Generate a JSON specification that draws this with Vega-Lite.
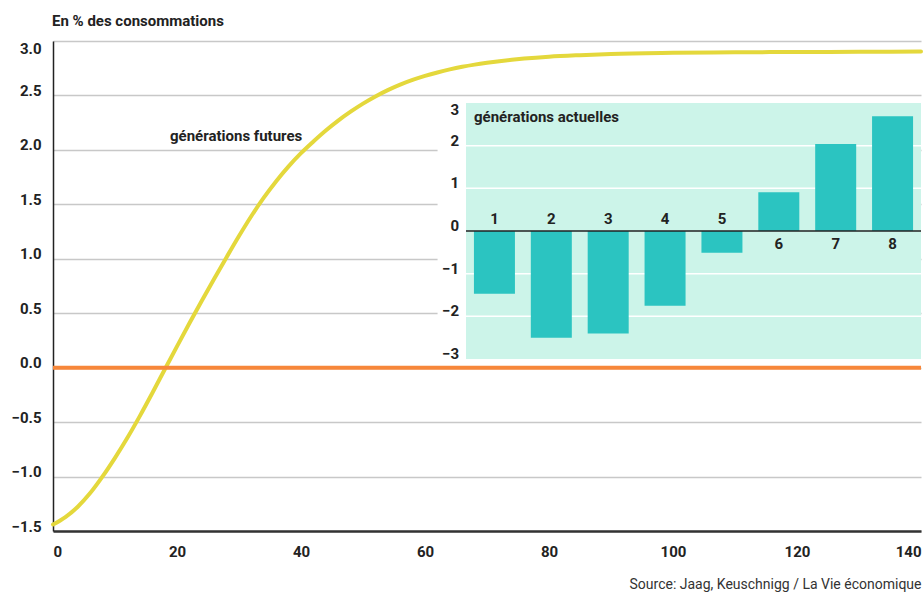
{
  "$schema": "https://vega.github.io/schema/vega-lite/v6.json",
  "width": 868,
  "height": 490,
  "autosize": "none",
  "padding": {"left": 53, "top": 41, "right": 3, "bottom": 64},
  "background": "white",
  "config": {
    "view": {"stroke": null},
    "font": "Roboto, sans-serif"
  },
  "title": {
    "text": "En % des consommations",
    "anchor": "start",
    "frame": "group",
    "fontSize": 15,
    "fontWeight": "bold",
    "color": "#222222",
    "baseline": "alphabetic",
    "offset": 0,
    "dx": -1
  },
  "datasets": {
    "curve": [
      {"x": 0, "y": -1.44}, {"x": 2, "y": -1.372}, {"x": 4, "y": -1.277}, {"x": 6, "y": -1.152},
      {"x": 8, "y": -0.999}, {"x": 10, "y": -0.828}, {"x": 12, "y": -0.644}, {"x": 14, "y": -0.445},
      {"x": 16, "y": -0.235}, {"x": 18, "y": -0.019}, {"x": 20, "y": 0.196}, {"x": 22, "y": 0.408},
      {"x": 24, "y": 0.615}, {"x": 26, "y": 0.817}, {"x": 28, "y": 1.015}, {"x": 30, "y": 1.209},
      {"x": 32, "y": 1.393}, {"x": 34, "y": 1.561}, {"x": 36, "y": 1.713}, {"x": 38, "y": 1.849},
      {"x": 40, "y": 1.97}, {"x": 42, "y": 2.077}, {"x": 44, "y": 2.178}, {"x": 46, "y": 2.269},
      {"x": 48, "y": 2.351}, {"x": 50, "y": 2.425}, {"x": 52, "y": 2.491}, {"x": 54, "y": 2.549},
      {"x": 56, "y": 2.599}, {"x": 58, "y": 2.642}, {"x": 60, "y": 2.679}, {"x": 62, "y": 2.711},
      {"x": 64, "y": 2.739}, {"x": 66, "y": 2.763}, {"x": 68, "y": 2.783}, {"x": 70, "y": 2.8},
      {"x": 72, "y": 2.815}, {"x": 74, "y": 2.828}, {"x": 76, "y": 2.839}, {"x": 80, "y": 2.856},
      {"x": 85, "y": 2.87}, {"x": 90, "y": 2.881}, {"x": 100, "y": 2.891}, {"x": 110, "y": 2.896},
      {"x": 120, "y": 2.899}, {"x": 130, "y": 2.901}, {"x": 140, "y": 2.903}
    ],
    "bars": [
      {"g": 1, "v": -1.47}, {"g": 2, "v": -2.5}, {"g": 3, "v": -2.4}, {"g": 4, "v": -1.75},
      {"g": 5, "v": -0.51}, {"g": 6, "v": 0.91}, {"g": 7, "v": 2.04}, {"g": 8, "v": 2.69}
    ],
    "grid": [{"v": -2}, {"v": -1}, {"v": 1}, {"v": 2}],
    "ticks": [{"v": -3}, {"v": -2}, {"v": -1}, {"v": 0}, {"v": 1}, {"v": 2}, {"v": 3}],
    "one": [{}]
  },
  "layer": [
    {
      "layer": [
        {
          "data": {"name": "curve"},
          "mark": {"type": "line", "color": "#E4D83C", "strokeWidth": 4, "interpolate": "monotone", "strokeCap": "round"},
          "encoding": {
            "x": {
              "field": "x", "type": "quantitative",
              "scale": {"domain": [0, 140], "nice": false, "zero": false},
              "axis": {
                "values": [0, 20, 40, 60, 80, 100, 120, 140],
                "grid": false, "ticks": false,
                "domain": true, "domainColor": "#333333", "domainWidth": 2.5,
                "labelFlush": true, "labelPadding": 13,
                "labelFontSize": 15, "labelFontWeight": "bold", "labelColor": "#222222",
                "title": "Source: Jaag, Keuschnigg / La Vie économique",
                "titleAnchor": "end", "titleAlign": "right", "titleFontWeight": "normal",
                "titleFontSize": 14, "titleColor": "#333333", "titlePadding": 18
              }
            },
            "y": {
              "field": "y", "type": "quantitative",
              "scale": {"domain": [-1.5, 3], "nice": false, "zero": false},
              "axis": {
                "values": [-1.5, -1, -0.5, 0, 0.5, 1, 1.5, 2, 2.5, 3],
                "format": ".1f",
                "grid": true, "gridColor": "#C8C8C8", "gridWidth": 1.5,
                "ticks": false,
                "domain": true, "domainColor": "#222222", "domainWidth": 1.5,
                "labelPadding": 12,
                "labelFontSize": 15, "labelFontWeight": "bold", "labelColor": "#222222",
                "labelBaseline": {"condition": {"test": "datum.value >= 3", "value": "top"}, "value": "alphabetic"},
                "title": null
              }
            }
          }
        },
        {
          "data": {"name": "one"},
          "mark": {"type": "rule", "color": "#F7873A", "strokeWidth": 4},
          "encoding": {"y": {"datum": 0}}
        },
        {
          "data": {"name": "one"},
          "mark": {"type": "text", "text": "générations futures", "align": "right", "baseline": "alphabetic", "fontSize": 15, "fontWeight": "bold", "color": "#222222"},
          "encoding": {"x": {"datum": 40.2}, "y": {"datum": 2.08}}
        }
      ]
    },
    {
      "layer": [
        {
          "data": {"name": "one"},
          "mark": {"type": "rect", "color": "white"},
          "encoding": {
            "x": {"datum": 0, "type": "quantitative", "scale": {"domain": [0.5, 8.5], "range": [413, 868], "padding": 0, "nice": false, "zero": false}, "axis": null},
            "x2": {"datum": 8.5},
            "y": {"datum": -3.08, "type": "quantitative", "scale": {"domain": [-3, 3], "range": [318, 62], "padding": 0, "nice": false, "zero": false}, "axis": null},
            "y2": {"datum": 3.07}
          }
        },
        {
          "data": {"name": "one"},
          "mark": {"type": "rect", "color": "#CCF4E9"},
          "encoding": {
            "x": {"datum": 0.5, "type": "quantitative", "axis": null},
            "x2": {"datum": 8.5},
            "y": {"datum": -3, "type": "quantitative", "axis": null},
            "y2": {"datum": 3}
          }
        },
        {
          "data": {"name": "grid"},
          "mark": {"type": "rule", "color": "white", "strokeWidth": 1.5},
          "encoding": {
            "x": {"datum": 0.5, "type": "quantitative", "axis": null},
            "x2": {"datum": 8.5},
            "y": {"field": "v", "type": "quantitative", "axis": null}
          }
        },
        {
          "data": {"name": "bars"},
          "mark": {"type": "bar", "color": "#2BC4C1", "width": 41},
          "encoding": {
            "x": {"field": "g", "type": "quantitative", "axis": null},
            "y": {"field": "v", "type": "quantitative", "axis": null},
            "y2": {"datum": 0}
          }
        },
        {
          "data": {"name": "one"},
          "mark": {"type": "rule", "color": "#222222", "strokeWidth": 1.5},
          "encoding": {
            "x": {"datum": 0.5, "type": "quantitative", "axis": null},
            "x2": {"datum": 8.5},
            "y": {"datum": 0, "type": "quantitative", "axis": null}
          }
        },
        {
          "data": {"name": "ticks"},
          "transform": [{"filter": "datum.v < 3"}],
          "mark": {"type": "text", "dx": -7, "baseline": "alphabetic", "align": "right", "fontSize": 15, "fontWeight": "bold", "color": "#222222"},
          "encoding": {
            "x": {"datum": 0.5, "type": "quantitative", "axis": null},
            "y": {"field": "v", "type": "quantitative", "axis": null},
            "text": {"field": "v", "type": "quantitative", "format": "d"}
          }
        },
        {
          "data": {"name": "ticks"},
          "transform": [{"filter": "datum.v >= 3"}],
          "mark": {"type": "text", "dx": -7, "baseline": "top", "align": "right", "fontSize": 15, "fontWeight": "bold", "color": "#222222"},
          "encoding": {
            "x": {"datum": 0.5, "type": "quantitative", "axis": null},
            "y": {"field": "v", "type": "quantitative", "axis": null},
            "text": {"field": "v", "type": "quantitative", "format": "d"}
          }
        },
        {
          "data": {"name": "bars"},
          "transform": [{"filter": "datum.v < 0"}],
          "mark": {"type": "text", "dy": -12, "baseline": "middle", "align": "center", "fontSize": 15, "fontWeight": "bold", "color": "#222222"},
          "encoding": {
            "x": {"field": "g", "type": "quantitative", "axis": null},
            "y": {"datum": 0, "type": "quantitative", "axis": null},
            "text": {"field": "g", "type": "quantitative"}
          }
        },
        {
          "data": {"name": "bars"},
          "transform": [{"filter": "datum.v > 0"}],
          "mark": {"type": "text", "dy": 13, "baseline": "middle", "align": "center", "fontSize": 15, "fontWeight": "bold", "color": "#222222"},
          "encoding": {
            "x": {"field": "g", "type": "quantitative", "axis": null},
            "y": {"datum": 0, "type": "quantitative", "axis": null},
            "text": {"field": "g", "type": "quantitative"}
          }
        },
        {
          "data": {"name": "one"},
          "mark": {"type": "text", "text": "générations actuelles", "align": "left", "baseline": "middle", "fontSize": 15, "fontWeight": "bold", "color": "#222222"},
          "encoding": {
            "x": {"datum": 0.64, "type": "quantitative", "axis": null},
            "y": {"datum": 2.67, "type": "quantitative", "axis": null}
          }
        }
      ]
    }
  ],
  "resolve": {"scale": {"x": "independent", "y": "independent"}}
}
